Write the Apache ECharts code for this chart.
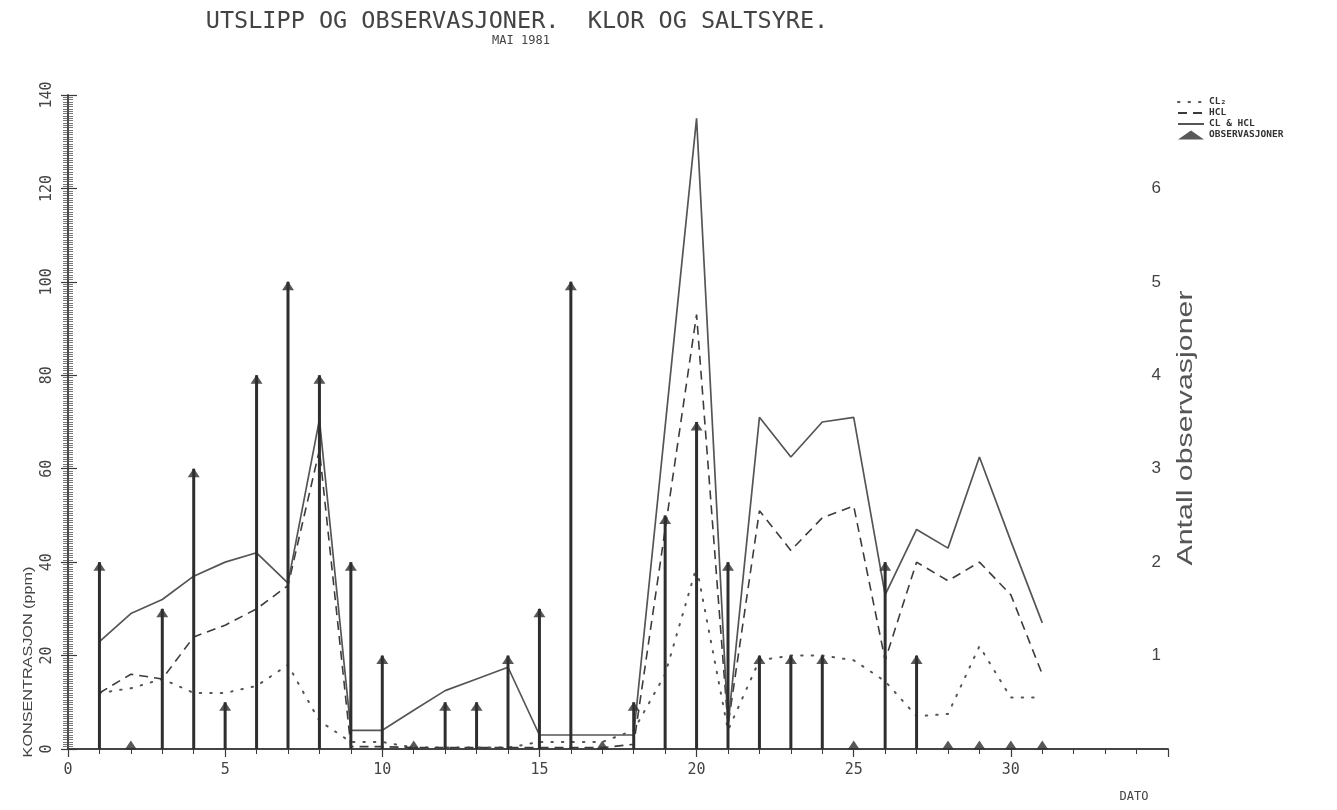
<!DOCTYPE html>
<html>
<head>
<meta charset="utf-8">
<script src="https://cdn.jsdelivr.net/npm/echarts@6/dist/echarts.min.js"></script>
<style>
html,body{margin:0;padding:0;background:#fff;}
#chart{width:1337px;height:810px;}
</style>
</head>
<body>
<div id="chart"></div>
<script>
// Day of month (May 1981)
const days = [1,2,3,4,5,6,7,8,9,10,11,12,13,14,15,16,17,18,19,20,21,22,23,24,25,26,27,28,29,30,31];
// CL2 concentration (ppm) - dotted
const cl2 = [12,13,15,12,12,13.5,18,6,1.5,1.5,0.3,0.3,0.3,0.3,1.5,1.5,1.5,4,16,39,4,19,20,20,19,14.5,7,7.5,22,11,11];
// HCL concentration (ppm) - dashed
const hcl = [12,16,15,24,26.5,30,35,64,0.5,0.5,0.3,0.3,0.3,0.3,0.3,0.3,0.3,1,47,93,5,51,42.5,49.5,52,19,40,36,40,33,16];
// CL & HCL total (ppm) - solid
const total = [23,29,32,37,40,42,35.5,70.5,4,4,8.3,12.5,15,17.5,3,3,3,3,69,135,5,71,62.5,70,71,33,47,43,62.5,44.5,27];
// Number of observations (right axis)
const obs = [2,0,1.5,3,0.5,4,5,4,2,1,0,0.5,0.5,1,1.5,5,0,0.5,2.5,3.5,2,1,1,1,0,2,1,0,0,0,0];

const leftTicks = [0,20,40,60,80,100,120,140];
const rightTicks = [1,2,3,4,5,6];
const xTicks = [0,5,10,15,20,25,30];

const mono = '"DejaVu Sans Mono", monospace';
const sans = '"Liberation Sans", Arial, sans-serif';
const ink = '#3a3a3a';

const pair = arr => days.map((d,i)=>[d, arr[i]]);

const chart = echarts.init(document.getElementById('chart'));
chart.setOption({
  backgroundColor: '#fff',
  animation: false,
  grid: {left: 68, right: 169, top: 95, bottom: 61, containLabel: false},
  xAxis: [
    {type:'value', position:'bottom', min:0, max:35, interval:5,
     axisLine:{show:true, lineStyle:{color:ink, width:1.5}},
     axisTick:{show:false}, splitLine:{show:false},
     axisLabel:{color:'#444', fontFamily:mono, fontSize:15, margin:14,
       formatter: v => xTicks.includes(v) ? String(v) : ''}},
    {type:'value', position:'top', min:0, max:35, interval:5,
     axisLine:{show:true, lineStyle:{color:ink, width:1.5}},
     axisTick:{show:true, inside:true, length:8, lineStyle:{color:ink, width:1.2}},
     minorTick:{show:true, splitNumber:5, length:5, lineStyle:{color:ink, width:1}},
     axisLabel:{show:false}, splitLine:{show:false}}
  ],
  yAxis: [
    {type:'value', position:'left', min:0, max:140, interval:20,
     axisLine:{show:true, lineStyle:{color:ink, width:1.5}},
     axisTick:{show:true, inside:true, length:9, lineStyle:{color:ink, width:1.2}},
     minorTick:{show:true, splitNumber:40, length:5, lineStyle:{color:'#555', width:0.8}},
     splitLine:{show:false},
     axisLabel:{rotate:90, color:'#444', fontFamily:mono, fontSize:15, margin:13,
       formatter: v => leftTicks.includes(v) ? String(v) : ''}},
    {type:'value', position:'right', min:0, max:7, interval:1,
     axisLine:{show:true, lineStyle:{color:ink, width:1.5}},
     axisTick:{show:true, inside:true, length:7, lineStyle:{color:ink, width:1.2}},
     minorTick:{show:true, splitNumber:40, length:5, lineStyle:{color:'#555', width:0.8}},
     splitLine:{show:false},
     axisLabel:{inside:true, color:'#444', fontFamily:sans, fontSize:17, margin:7,
       formatter: v => rightTicks.includes(v) ? String(v) : ''}}
  ],
  legend: {
    orient:'vertical', left:1172, top:92, itemGap:1, itemWidth:26, itemHeight:9,
    data:[
      {name:'CL₂', itemStyle:{opacity:0}},
      {name:'HCL', itemStyle:{opacity:0}},
      {name:'CL & HCL', itemStyle:{opacity:0}},
      {name:'OBSERVASJONER'}
    ],
    textStyle:{fontFamily:mono, fontSize:9.5, color:'#333', fontWeight:'bold'}
  },
  graphic: [
    {type:'text', x:517, y:22, style:{text:'UTSLIPP OG OBSERVASJONER.  KLOR OG SALTSYRE.', fontFamily:mono, fontSize:23.5, fill:'#444', align:'center', verticalAlign:'middle'}},
    {type:'text', x:521, y:41, style:{text:'MAI 1981', fontFamily:mono, fontSize:12, fill:'#444', align:'center', verticalAlign:'middle'}},
    {type:'text', x:28, y:662, rotation:Math.PI/2, scaleX:1.2, style:{text:'KONSENTRASJON (ppm)', fontFamily:sans, fontSize:13.5, fill:'#444', align:'center', verticalAlign:'middle'}},
    {type:'text', x:1186, y:428, rotation:Math.PI/2, scaleX:1.38, style:{text:'Antall observasjoner', fontFamily:sans, fontSize:22, fill:'#555', align:'center', verticalAlign:'middle'}},
    {type:'text', x:1134, y:797, style:{text:'DATO', fontFamily:mono, fontSize:12, fill:'#444', align:'center', verticalAlign:'middle'}}
  ],
  series: [
    {name:'CL₂', type:'line', xAxisIndex:0, yAxisIndex:0, data:pair(cl2), symbol:'none',
     itemStyle:{color:'#555'},
     lineStyle:{color:'#555', width:2, type:[1.5,9], cap:'round'}, z:3},
    {name:'HCL', type:'line', xAxisIndex:0, yAxisIndex:0, data:pair(hcl), symbol:'none',
     itemStyle:{color:'#3c3c3c'},
     lineStyle:{color:'#3c3c3c', width:1.6, type:[9,6]}, z:3},
    {name:'CL & HCL', type:'line', xAxisIndex:0, yAxisIndex:0, data:pair(total), symbol:'none',
     itemStyle:{color:'#555'},
     lineStyle:{color:'#555', width:1.7, type:'solid'}, z:3},
    {name:'stems', type:'bar', xAxisIndex:0, yAxisIndex:1, data:pair(obs), barWidth:3,
     itemStyle:{color:'#2e2e2e'}, z:4},
    {name:'OBSERVASJONER', type:'scatter', xAxisIndex:0, yAxisIndex:1, symbol:'triangle', symbolSize:[12,9],
     data: days.map((d,i)=>({value:[d, obs[i]], symbolOffset: obs[i]===0 ? [0,-4] : [0,4]})),
     itemStyle:{color:'#2e2e2e'}, z:5}
  ]
});
</script>
</body>
</html>
